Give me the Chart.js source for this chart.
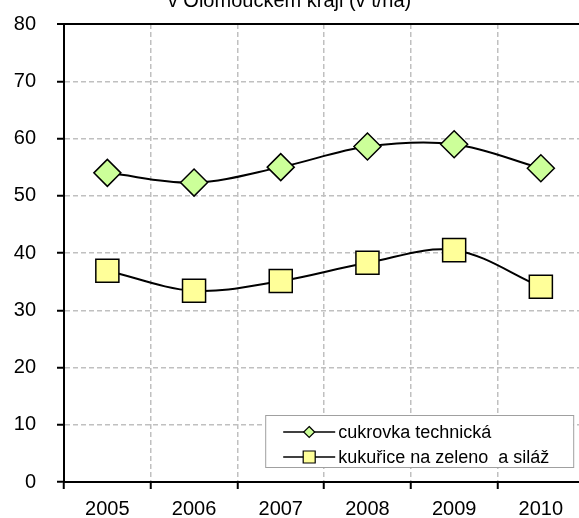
<!DOCTYPE html>
<html>
<head>
<meta charset="utf-8">
<script src="https://cdn.jsdelivr.net/npm/chart.js@4/dist/chart.umd.min.js"></script>
<style>
  html, body { margin: 0; padding: 0; background: #fff; overflow: hidden; width: 579px; height: 518px; }
  #wrap { position: absolute; left: 0; top: 0; width: 602px; height: 518px; }
</style>
</head>
<body>
<div id="wrap"><canvas id="c" width="602" height="518"></canvas></div>
<script>
const titleText = "v Olomouckém kraji (v t/ha)";
const years = ["2005", "2006", "2007", "2008", "2009", "2010"];
const seriesNames = ["cukrovka technická", "kukuřice na zeleno  a siláž"];
const cukrovka = [54.0, 52.3, 55.0, 58.6, 59.0, 54.8];
const kukurice = [36.9, 33.4, 35.1, 38.3, 40.5, 34.1];
const yTicks = [0, 10, 20, 30, 40, 50, 60, 70, 80];

const FONT = "'Liberation Sans', Arial, sans-serif";

const titlePlugin = {
  id: 'topTitle',
  afterDraw(chart) {
    const ctx = chart.ctx;
    ctx.save();
    ctx.font = "20px " + FONT;
    ctx.fillStyle = "#000";
    ctx.textAlign = "center";
    ctx.textBaseline = "alphabetic";
    ctx.fillText(titleText, 289.5, 7);
    ctx.restore();
  }
};

const legendPlugin = {
  id: 'boxLegend',
  afterDraw(chart) {
    const ctx = chart.ctx;
    const a = chart.chartArea;
    const bx = a.right - 319, by = a.bottom - 67, bw = 308, bh = 52;
    ctx.save();
    ctx.fillStyle = "#fff";
    ctx.fillRect(bx, by, bw, bh);
    ctx.strokeStyle = "#a0a0a0";
    ctx.lineWidth = 1;
    ctx.strokeRect(bx + 0.5, by + 0.5, bw, bh);
    chart.data.datasets.forEach((ds, i) => {
      const y = by + 17 + i * 25;
      const x0 = bx + 18, x1 = bx + 70, xm = (x0 + x1) / 2;
      ctx.strokeStyle = "#000";
      ctx.lineWidth = 1.5;
      ctx.beginPath(); ctx.moveTo(x0, y); ctx.lineTo(x1, y); ctx.stroke();
      ctx.fillStyle = ds.pointBackgroundColor;
      ctx.strokeStyle = "#000";
      ctx.lineWidth = 1.2;
      ctx.beginPath();
      if (ds.pointStyle === 'rectRot') {
        const r = 5.5;
        ctx.moveTo(xm, y - r); ctx.lineTo(xm + r, y); ctx.lineTo(xm, y + r); ctx.lineTo(xm - r, y); ctx.closePath();
      } else {
        const s = 6;
        ctx.rect(xm - s, y - s, 2 * s, 2 * s);
      }
      ctx.fill(); ctx.stroke();
      ctx.fillStyle = "#000";
      ctx.font = "18px " + FONT;
      ctx.textAlign = "left";
      ctx.textBaseline = "middle";
      ctx.fillText(ds.label, x1 + 3, y + 1);
    });
    ctx.restore();
  }
};

new Chart(document.getElementById('c'), {
  type: 'line',
  data: {
    labels: years,
    datasets: [
      {
        label: seriesNames[0],
        data: cukrovka,
        borderColor: '#000',
        borderWidth: 2,
        tension: 0.35,
        pointStyle: 'rectRot',
        pointRadius: 13.5,
        pointBackgroundColor: '#CCFF99',
        pointBorderColor: '#000',
        pointBorderWidth: 1.5,
        fill: false
      },
      {
        label: seriesNames[1],
        data: kukurice,
        borderColor: '#000',
        borderWidth: 2,
        tension: 0.35,
        pointStyle: 'rect',
        pointRadius: 16.3,
        pointBackgroundColor: '#FFFF99',
        pointBorderColor: '#000',
        pointBorderWidth: 1.5,
        fill: false
      }
    ]
  },
  options: {
    responsive: false,
    animation: false,
    devicePixelRatio: 1,
    layout: { padding: { top: 24, right: 6, bottom: 0, left: 0 } },
    plugins: { legend: { display: false }, title: { display: false }, tooltip: { enabled: false } },
    scales: {
      x: {
        offset: true,
        grid: {
          offset: true,
          color: '#c0c0c0',
          lineWidth: 1.5,
          tickColor: '#000',
          tickWidth: 2,
          tickLength: 7
        },
        border: { display: true, color: '#000', width: 2, dash: [5, 3] },
        ticks: { color: '#000', font: { family: FONT, size: 20 }, padding: 8, maxRotation: 0 },
        afterFit(s) { s.height = 36; s.paddingLeft = 0; s.paddingRight = 0; }
      },
      y: {
        min: 0, max: 80,
        afterBuildTicks(s) { s.ticks = yTicks.map(v => ({ value: v })); },
        grid: {
          color: ctx => (ctx.tick && ctx.tick.value === 80) ? '#000' : '#c0c0c0',
          lineWidth: ctx => (ctx.tick && ctx.tick.value === 80) ? 2 : 1.5,
          tickColor: '#000',
          tickWidth: 2,
          tickLength: 7
        },
        border: {
          display: true, color: '#000', width: 2,
          dash: ctx => (ctx.tick && ctx.tick.value === 80) ? [] : [5, 3]
        },
        ticks: { color: '#000', font: { family: FONT, size: 20 }, padding: 21 },
        afterFit(s) { s.width = 64; s.paddingTop = 0; s.paddingBottom = 0; }
      }
    }
  },
  plugins: [titlePlugin, legendPlugin]
});
</script>
</body>
</html>
